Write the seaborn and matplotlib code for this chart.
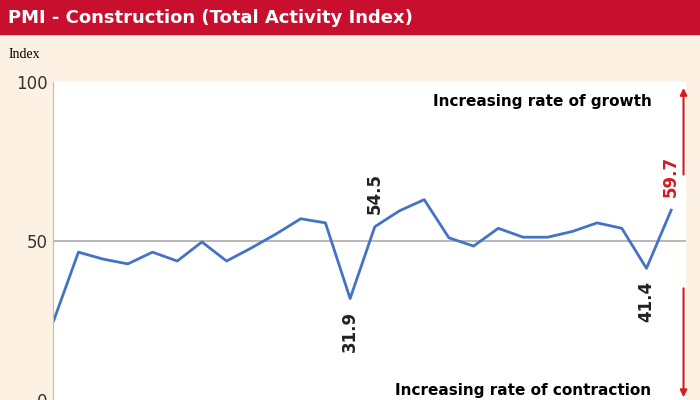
import matplotlib
matplotlib.use("Agg")
import matplotlib.pyplot as plt
import seaborn as sns
import pandas as pd

periods = list(range(26))
pmi = [25, 46.5, 44.3, 42.8, 46.5, 43.7, 49.7, 43.7, 47.8, 52.2, 57, 55.7, 31.9,
       54.5, 59.5, 63, 51, 48.4, 54, 51.2, 51.2, 53, 55.7, 54, 41.4, 59.7]
yticks = [0, 50, 100]
df = pd.DataFrame({"period": periods, "pmi": pmi})

bg = "#fdf1e4"
red = "#d7191f"
fig = plt.figure(figsize=(7, 4), dpi=100, facecolor=bg)
ax = fig.add_axes([0.075, 0.0, 0.905, 0.795])
ax.set_facecolor("white")
sns.lineplot(data=df, x="period", y="pmi", ax=ax, color="#4472c4", linewidth=2)
ax.set_ylim(0, 100)
ax.set_xlim(-0.05, 25.6)
ax.set_yticks(yticks)
ax.set_yticklabels([str(t) for t in yticks], fontsize=12, color="#333333")
ax.set_xticks([])
ax.set_xlabel(""); ax.set_ylabel("")
ax.axhline(50, color="#aaaaaa", lw=1.2, zorder=0)
for s in ["top", "right", "bottom"]:
    ax.spines[s].set_visible(False)
ax.spines["left"].set_color("#bbbbbb")
ax.tick_params(axis="y", length=0)

fig.patches.append(plt.Rectangle((0, 0.915), 1, 0.085, transform=fig.transFigure,
                                 color="#c8102e", zorder=0))
fig.text(0.012, 0.955, "PMI - Construction (Total Activity Index)", color="white",
         fontsize=13, fontweight="bold", va="center")
fig.text(0.012, 0.865, "Index", fontsize=10, va="center", family="Liberation Serif")

for i, c in [(12, "#222222"), (13, "#222222"), (24, "#222222"), (25, red)]:
    v = pmi[i]
    if i in (12, 24):
        ax.text(i, v - 4, f"{v}", rotation=90, ha="center", va="top", fontsize=12,
                fontweight="bold", color=c)
    else:
        ax.text(i, v + 4, f"{v}", rotation=90, ha="center", va="bottom", fontsize=12,
                fontweight="bold", color=c)

ax.text(24.2, 94, "Increasing rate of growth", ha="right", va="center", fontsize=11,
        fontweight="bold")
ax.text(24.2, 3, "Increasing rate of contraction", ha="right", va="center", fontsize=11,
        fontweight="bold")
ax.annotate("", xy=(25.5, 99), xytext=(25.5, 70),
            arrowprops=dict(arrowstyle="-|>", color=red, lw=1.5), annotation_clip=False)
ax.annotate("", xy=(25.5, 0), xytext=(25.5, 36),
            arrowprops=dict(arrowstyle="-|>", color=red, lw=1.5), annotation_clip=False)

fig.savefig("out.png", dpi=100, facecolor=bg)
